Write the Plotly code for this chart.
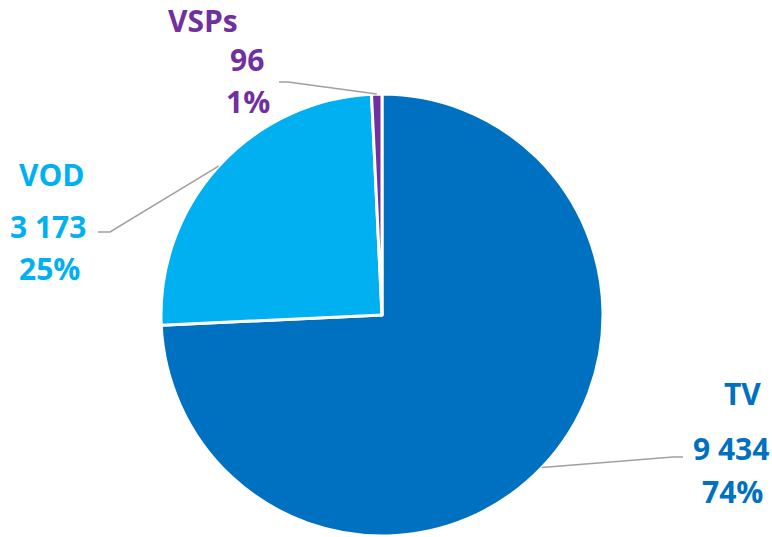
import math
import plotly.graph_objects as go

labels = ["TV", "VOD", "VSPs"]
values = [9434, 3173, 96]
value_text = ["9 434", "3 173", "96"]
pct_text = ["74%", "25%", "1%"]
colors = ["#0070C0", "#00B0F0", "#7030A0"]

W, H = 772, 537
CX, CY, R = 382, 315, 221

fig = go.Figure()
fig.add_trace(go.Pie(
    labels=labels, values=values, sort=False, direction="clockwise", rotation=0,
    marker=dict(colors=colors, line=dict(color="white", width=3)),
    textinfo="none", hoverinfo="label+value+percent", showlegend=False,
    domain=dict(x=[(CX - R) / W, (CX + R) / W], y=[1 - (CY + R) / H, 1 - (CY - R) / H]),
))

# label layout (pixel positions of text lines and leader elbows)
label_pos = {
    "TV":   dict(name=(742, 393), val=(731, 448), pct=(732, 491), elbow=(673, 457), end=(683, 457)),
    "VOD":  dict(name=(52, 174), val=(48, 226), pct=(49, 268), elbow=(110, 232), end=(98, 232)),
    "VSPs": dict(name=(203, 20), val=(247, 59), pct=(248, 101), elbow=(288, 82), end=(279, 82)),
}

total = sum(values)
cum = 0
font_family = "Open Sans"
for lab, v, vt, pt, c in zip(labels, values, value_text, pct_text, colors):
    mid = (cum + v / 2) / total * 2 * math.pi
    cum += v
    sx = CX + R * math.sin(mid)
    sy = CY - R * math.cos(mid)
    p = label_pos[lab]
    fig.add_shape(type="path", xref="x", yref="y",
                  path=f"M {sx:.1f},{sy:.1f} L {p['elbow'][0]},{p['elbow'][1]} L {p['end'][0]},{p['end'][1]}",
                  line=dict(color="#A0A0A0", width=1.5))
    for key, txt in (("name", lab), ("val", vt), ("pct", pt)):
        x, y = p[key]
        fig.add_annotation(x=x, y=y, xref="x", yref="y", text=f"<b>{txt}</b>", showarrow=False,
                           font=dict(family=font_family, size=30, color=c),
                           xanchor="center", yanchor="middle")

fig.update_xaxes(visible=False, range=[0, W], fixedrange=True)
fig.update_yaxes(visible=False, range=[H, 0], fixedrange=True)
fig.update_layout(width=W, height=H, margin=dict(l=0, r=0, t=0, b=0),
                  paper_bgcolor="white", plot_bgcolor="white")
fig.write_html("out.html", config={"displayModeBar": False},
               post_script="document.body.style.margin='0';document.body.style.overflow='hidden';")
